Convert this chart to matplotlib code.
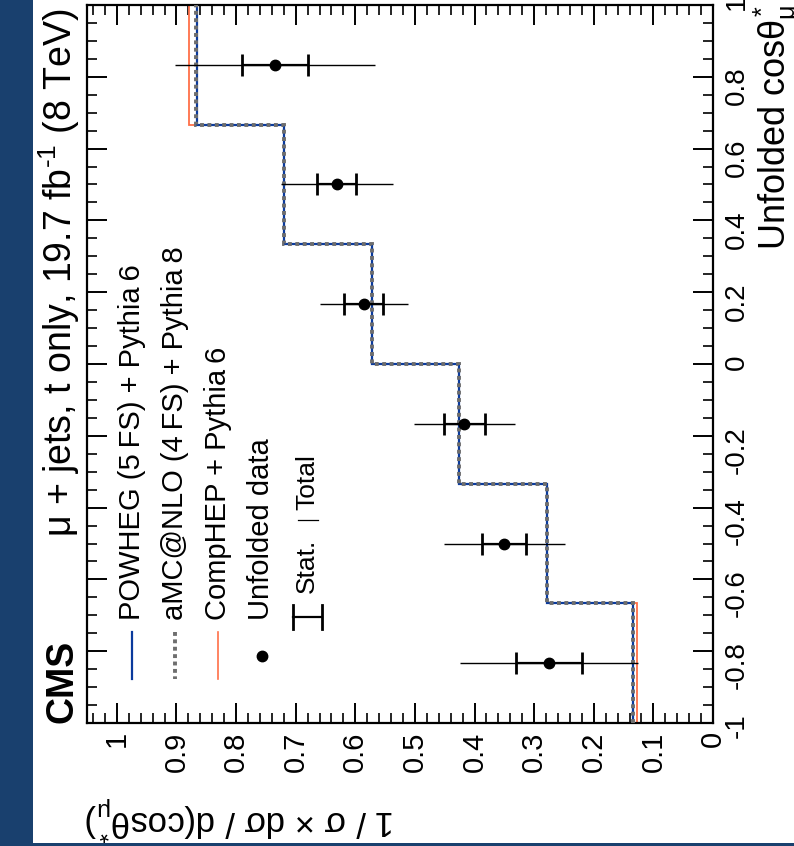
import numpy as np
import matplotlib
matplotlib.use("Agg")
import matplotlib.pyplot as plt
from matplotlib.lines import Line2D
from matplotlib.patches import Rectangle
from matplotlib.ticker import MultipleLocator, FuncFormatter

plt.rcParams["font.family"] = ["Liberation Sans", "DejaVu Sans"]
plt.rcParams["mathtext.fontset"] = "custom"
plt.rcParams["mathtext.rm"] = "Liberation Sans"
plt.rcParams["mathtext.it"] = "Liberation Sans"
plt.rcParams["mathtext.bf"] = "Liberation Sans:bold"
plt.rcParams["axes.unicode_minus"] = False

# bin edges in cos(theta*) and normalised cross sections
edges = [-1, -2 / 3, -1 / 3, 0, 1 / 3, 2 / 3, 1]
powheg = [0.134, 0.278, 0.426, 0.572, 0.719, 0.866]
amcnlo = [0.134, 0.278, 0.426, 0.572, 0.719, 0.868]
comphep = [0.127, 0.278, 0.426, 0.572, 0.719, 0.879]
data = [0.275, 0.350, 0.417, 0.586, 0.631, 0.735]
stat_err = [0.056, 0.037, 0.034, 0.033, 0.033, 0.055]
total_err = [0.150, 0.102, 0.085, 0.074, 0.094, 0.168]

legend_labels = ["POWHEG (5\u2009FS) + Pythia\u20096",
                 "aMC@NLO (4\u2009FS) + Pythia\u20098",
                 "CompHEP + Pythia\u20096",
                 "Unfolded data"]

blue = "#0a3a9c"
grey = "#6e6e6e"
orange = "#ff7048"
dash = (0, (1.0, 0.9))

W, H = 794, 846
fig = plt.figure(figsize=(W / 100, H / 100), dpi=100, facecolor="#19406e")


def fx(x):
    return x / W


def fy(y):
    return 1 - y / H


# white page area
fig.patches.append(Rectangle((fx(33), fy(843)), 1 - fx(33), fy(0) - fy(843),
                             transform=fig.transFigure, facecolor="white",
                             edgecolor="none", zorder=-5))

ax = fig.add_axes([fx(87), fy(723), fx(713) - fx(87), fy(5) - fy(723)])
ax.set_facecolor("none")

centers = 0.5 * (np.array(edges[:-1]) + np.array(edges[1:]))

ax.stairs(comphep, edges, orientation="horizontal", baseline=None,
          color=orange, lw=1.3, zorder=2)
ax.stairs(powheg, edges, orientation="horizontal", baseline=None,
          color=blue, lw=1.6, zorder=3)
ax.stairs(amcnlo, edges, orientation="horizontal", baseline=None,
          color=grey, lw=2.8, linestyle=dash, zorder=4)

ax.errorbar(data, centers, xerr=total_err, fmt="none", ecolor="black",
            elinewidth=1.0, capsize=0, zorder=5)
ax.errorbar(data, centers, xerr=stat_err, fmt="none", ecolor="black",
            elinewidth=1.6, capsize=8, capthick=2, zorder=6)
ax.plot(data, centers, "o", color="black", ms=7.5, zorder=7)

ax.set_xlim(1.05, 0)
ax.set_ylim(-1, 1)
ax.xaxis.set_major_locator(MultipleLocator(0.1))
ax.xaxis.set_minor_locator(MultipleLocator(0.02))
ax.yaxis.set_major_locator(MultipleLocator(0.2))
ax.yaxis.set_minor_locator(MultipleLocator(0.05))
fmt = FuncFormatter(lambda v, p: f"{round(v, 2) + 0.0:g}")
ax.xaxis.set_major_formatter(fmt)
ax.yaxis.set_major_formatter(fmt)

ax.tick_params(which="both", direction="in", top=True, bottom=True,
               left=True, right=True, labelleft=False, labelright=True,
               labelbottom=True)
ax.tick_params(which="major", length=14.4, width=1.4)
ax.tick_params(which="minor", length=7.2, width=1.2)
ax.tick_params(axis="x", labelrotation=90, labelsize=21, pad=6)
ax.tick_params(axis="y", labelrotation=90, labelsize=20, pad=8)
for s in ax.spines.values():
    s.set_linewidth(1.6)

# labels and header, all turned on their side
fig.text(fx(72), fy(723), "CMS", fontsize=27, fontweight="bold", rotation=90,
         rotation_mode="anchor", ha="left", va="baseline")
fig.text(fx(72), fy(8), r"μ + jets, t only, 19.7 fb$^{\text{-1}}$ (8 TeV)",
         fontsize=27, rotation=90, rotation_mode="anchor", ha="right",
         va="baseline")
fig.text(fx(786), fy(4), r"Unfolded cos$\theta^{*}_{\mu}$", fontsize=26,
         rotation=90, rotation_mode="anchor", ha="right", va="baseline")
fig.text(fx(85), fy(810), r"1 / σ × dσ / d(cos$\theta^{*}_{\mu}$)",
         fontsize=25, rotation=180, rotation_mode="anchor", ha="right",
         va="baseline")

# legend
for bx, lab in zip([140, 183, 226, 269], legend_labels):
    fig.text(fx(bx), fy(620), lab, fontsize=21, rotation=90,
             rotation_mode="anchor", ha="left", va="baseline")

fig.add_artist(Line2D([fx(132)] * 2, [fy(632), fy(679)], color=blue, lw=1.6))
fig.add_artist(Line2D([fx(175)] * 2, [fy(632), fy(679)], color=grey, lw=2.8,
                      linestyle=dash))
fig.add_artist(Line2D([fx(218)] * 2, [fy(632), fy(679)], color=orange, lw=1.2))
fig.add_artist(Line2D([fx(262)], [fy(656)], marker="o", ms=7.5,
                      color="black", ls="none"))

fig.add_artist(Line2D([fx(293), fx(322)], [fy(617)] * 2, color="black", lw=1.6))
for cx in (293, 322):
    fig.add_artist(Line2D([fx(cx)] * 2, [fy(605), fy(629)], color="black", lw=2))
fig.add_artist(Line2D([fx(298), fx(318)], [fy(520)] * 2, color="black", lw=0.9))
fig.text(fx(314), fy(593), "Stat.", fontsize=19, rotation=90,
         rotation_mode="anchor", ha="left", va="baseline")
fig.text(fx(314), fy(510), "Total", fontsize=19, rotation=90,
         rotation_mode="anchor", ha="left", va="baseline")

fig.savefig("out.png", dpi=100, facecolor=fig.get_facecolor())
